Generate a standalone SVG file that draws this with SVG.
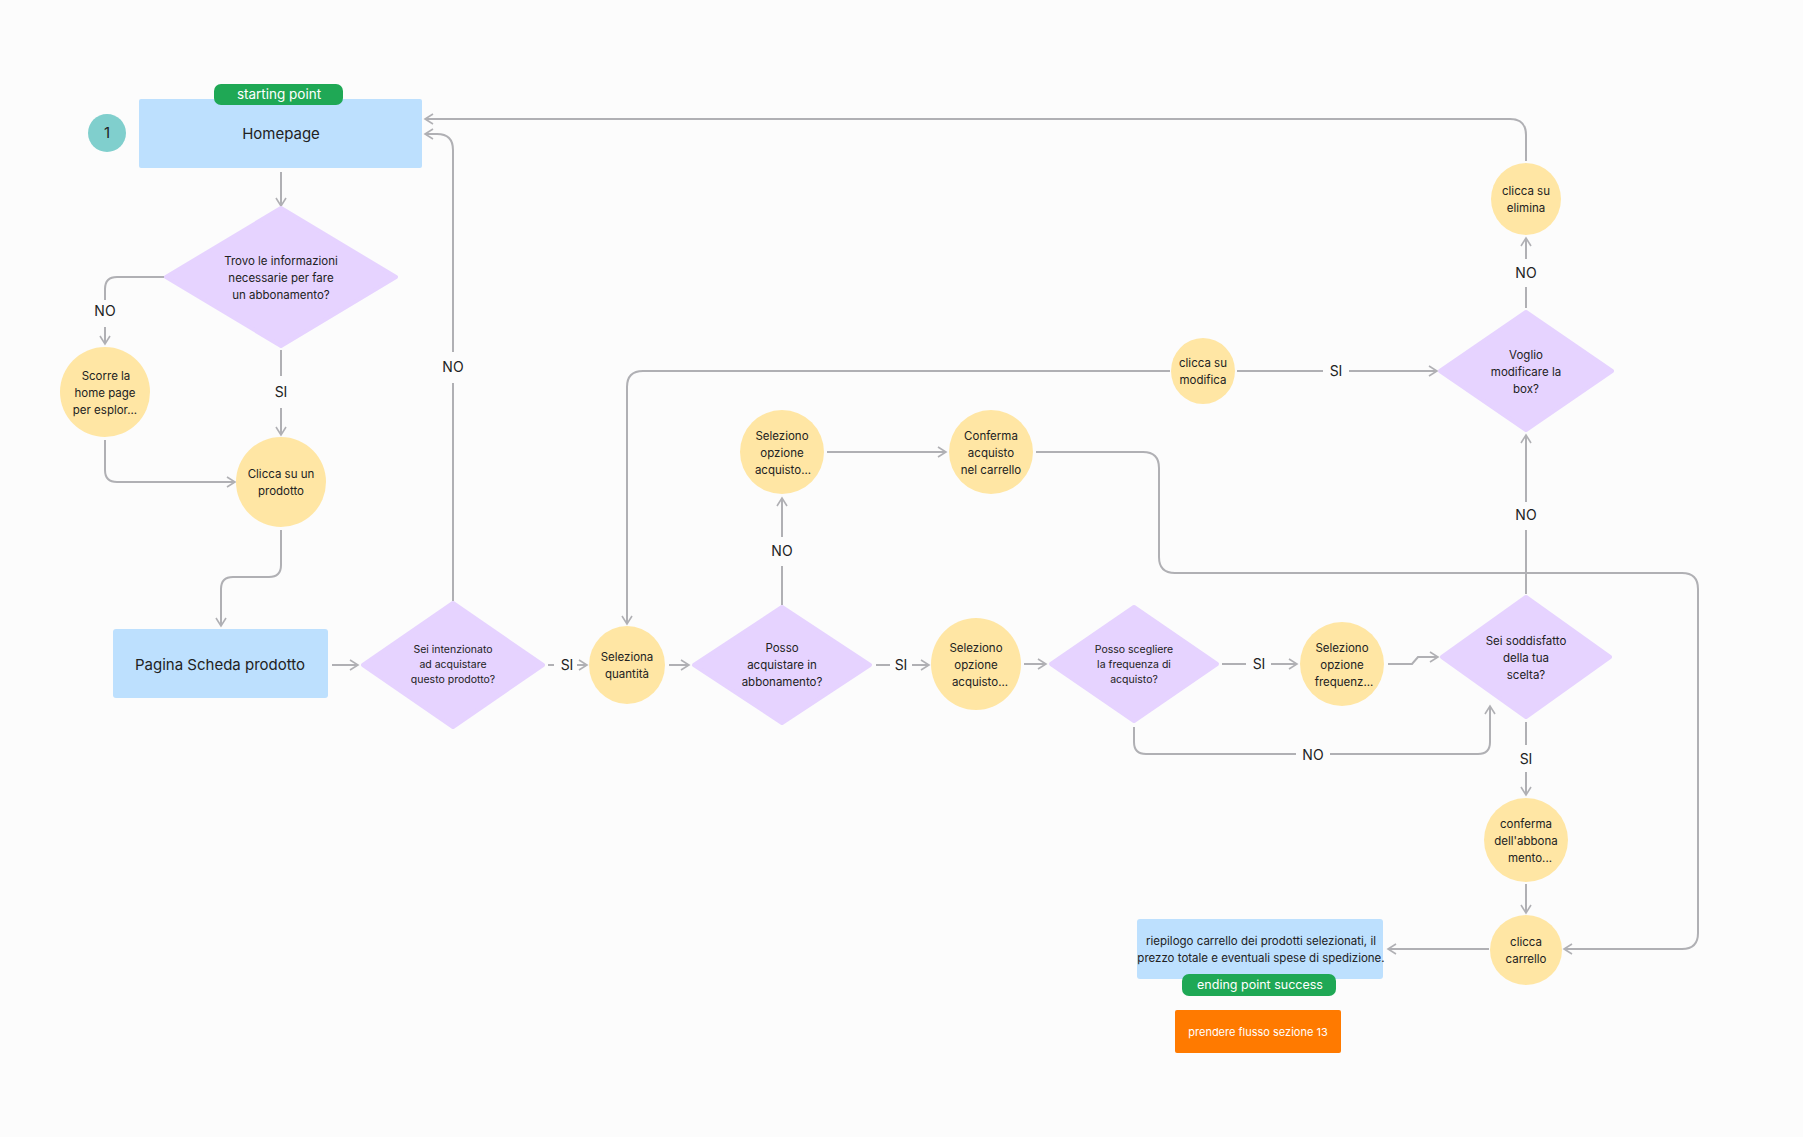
<svg xmlns="http://www.w3.org/2000/svg" width="1803" height="1137" viewBox="0 0 1803 1137">
<defs>
<marker id="ar" viewBox="0 0 12 12" refX="10" refY="6" markerWidth="12" markerHeight="12" markerUnits="userSpaceOnUse" orient="auto"><path d="M2,1 L10,6 L2,11" fill="none" stroke="#b0b0b4" stroke-width="1.6"/></marker>
</defs>
<style>
text{font-family:Inter,"Noto Sans","Liberation Sans",sans-serif;fill:#222;text-anchor:middle}
.s{font-size:11.5px}.m{font-size:15px}.l{font-size:13.5px}
.b{fill:#bde0fe}.p{fill:#e6d3ff}.y{fill:#ffe6a4}
.c{fill:none;stroke:#b0b0b4;stroke-width:2}
.a{marker-end:url(#ar)}
</style>
<rect width="1803" height="1137" fill="#fcfcfc"/>
<g id="connectors">
<path class="c a" d="M281,172 V206"/>
<path class="c" d="M166,277 H117 Q105,277 105,289 V300"/>
<path class="c a" d="M105,327 V344"/>
<path class="c" d="M281,350 V376"/>
<path class="c a" d="M281,408 V435"/>
<path class="c a" d="M105,440 V470 Q105,482 117,482 H235"/>
<path class="c a" d="M281,530 V565 Q281,577 269,577 H233 Q221,577 221,589 V626"/>
<path class="c a" d="M332,665 H358"/>
<path class="c" d="M453,601 V383"/>
<path class="c a" d="M453,352 V150 Q453,134 437,134 H425"/>
<path class="c" d="M548,665 H554"/>
<path class="c a" d="M577,665 H587"/>
<path class="c a" d="M669,665 H689"/>
<path class="c" d="M876,665 H890"/>
<path class="c a" d="M912,665 H929"/>
<path class="c a" d="M1024,664 H1046"/>
<path class="c" d="M1222,664 H1246"/>
<path class="c a" d="M1271,664 H1297"/>
<path class="c a" d="M1388,664 H1412 L1418,657 H1438"/>
<path class="c" d="M1134,727 V742 Q1134,754 1146,754 H1296"/>
<path class="c a" d="M1330,754 H1478 Q1490,754 1490,742 V706"/>
<path class="c" d="M1526,722 V745"/>
<path class="c a" d="M1526,772 V795"/>
<path class="c a" d="M1526,884 V913"/>
<path class="c a" d="M1489,949 H1388"/>
<path class="c" d="M1526,594 V530"/>
<path class="c a" d="M1526,502 V435"/>
<path class="c" d="M1526,308 V287"/>
<path class="c a" d="M1526,259 V238"/>
<path class="c a" d="M1526,161 V135 Q1526,119 1510,119 H425"/>
<path class="c" d="M1237,371 H1323"/>
<path class="c a" d="M1349,371 H1437"/>
<path class="c a" d="M1170,371 H643 Q627,371 627,387 V624"/>
<path class="c" d="M782,605 V566"/>
<path class="c a" d="M782,537 V498"/>
<path class="c a" d="M827,452 H946"/>
<path class="c a" d="M1036,452 H1143 Q1159,452 1159,468 V557 Q1159,573 1175,573 H1682 Q1698,573 1698,589 V933 Q1698,949 1682,949 H1564"/>
<g font-size="14px">
<text x="105" y="316">NO</text>
<text x="281" y="397">SI</text>
<text x="453" y="372">NO</text>
<text x="567" y="670">SI</text>
<text x="901" y="670">SI</text>
<text x="782" y="556">NO</text>
<text x="1259" y="669">SI</text>
<text x="1313" y="760">NO</text>
<text x="1526" y="764">SI</text>
<text x="1526" y="520">NO</text>
<text x="1526" y="278">NO</text>
<text x="1336" y="376">SI</text>
</g>
</g>
<g id="homepage"><rect class="b" x="139" y="99" width="283" height="69" rx="2"/><text class="m" x="281" y="139">Homepage</text></g>
<g id="start"><rect x="214" y="84" width="129" height="21" rx="7" fill="#1fa855"/><text x="279" y="99" style="fill:#fff;font-size:13.5px">starting point</text></g>
<g id="badge"><ellipse cx="107" cy="133" rx="19" ry="19" fill="#80cfcd"/><text x="107" y="138" style="font-size:15px">1</text></g>
<g id="d1"><polygon class="p" points="281,208 396,277 281,346 166,277" stroke="#e6d3ff" stroke-width="4" stroke-linejoin="round"/><text class="s" x="281" y="265">Trovo le informazioni</text><text class="s" x="281" y="282">necessarie per fare</text><text class="s" x="281" y="299">un abbonamento?</text></g>
<g id="scorre"><circle class="y" cx="105" cy="392" r="45"/><text class="s" x="106" y="380">Scorre la</text><text class="s" x="105" y="397">home page</text><text class="s" x="105" y="414">per esplor...</text></g>
<g id="clicca"><circle class="y" cx="281" cy="482" r="45"/><text class="s" x="281" y="478">Clicca su un</text><text class="s" x="281" y="495">prodotto</text></g>
<g id="pagina"><rect class="b" x="113" y="629" width="215" height="69" rx="3"/><text class="m" x="220" y="670">Pagina Scheda prodotto</text></g>
<g id="d2"><polygon class="p" points="453,603 543,665 453,727 363,665" stroke="#e6d3ff" stroke-width="4" stroke-linejoin="round"/><text class="s" x="453" y="653" style="font-size:10.5px">Sei intenzionato</text><text class="s" x="453" y="668" style="font-size:10.5px">ad acquistare</text><text class="s" x="453" y="683" style="font-size:10.5px">questo prodotto?</text></g>
<g id="quant"><ellipse class="y" cx="627" cy="665" rx="38" ry="39"/><text class="s" x="627" y="661">Seleziona</text><text class="s" x="627" y="678">quantità</text></g>
<g id="d3"><polygon class="p" points="782,607 870,665 782,723 694,665" stroke="#e6d3ff" stroke-width="4" stroke-linejoin="round"/><text class="s" x="782" y="652">Posso</text><text class="s" x="782" y="669">acquistare in</text><text class="s" x="782" y="686">abbonamento?</text></g>
<g id="opz1"><circle class="y" cx="782" cy="452" r="42"/><text class="s" x="782" y="440">Seleziono</text><text class="s" x="782" y="457">opzione</text><text class="s" x="783" y="474">acquisto...</text></g>
<g id="conf1"><circle class="y" cx="991" cy="452" r="42"/><text class="s" x="991" y="440">Conferma</text><text class="s" x="991" y="457">acquisto</text><text class="s" x="991" y="474">nel carrello</text></g>
<g id="opz2"><ellipse class="y" cx="976" cy="664" rx="45" ry="46"/><text class="s" x="976" y="652">Seleziono</text><text class="s" x="976" y="669">opzione</text><text class="s" x="980" y="686">acquisto...</text></g>
<g id="d4"><polygon class="p" points="1134,607 1217,664 1134,721 1051,664" stroke="#e6d3ff" stroke-width="4" stroke-linejoin="round"/><text class="s" x="1134" y="653" style="font-size:10.5px">Posso scegliere</text><text class="s" x="1134" y="668" style="font-size:10.5px">la frequenza di</text><text class="s" x="1134" y="683" style="font-size:10.5px">acquisto?</text></g>
<g id="freq"><circle class="y" cx="1342" cy="664" r="42"/><text class="s" x="1342" y="652">Seleziono</text><text class="s" x="1342" y="669">opzione</text><text class="s" x="1344" y="686">frequenz...</text></g>
<g id="d5"><polygon class="p" points="1526,597 1610,657 1526,717 1442,657" stroke="#e6d3ff" stroke-width="4" stroke-linejoin="round"/><text class="s" x="1526" y="645">Sei soddisfatto</text><text class="s" x="1526" y="662">della tua</text><text class="s" x="1526" y="679">scelta?</text></g>
<g id="confab"><circle class="y" cx="1526" cy="840" r="42"/><text class="s" x="1526" y="828">conferma</text><text class="s" x="1526" y="845">dell'abbona</text><text class="s" x="1530" y="862">mento...</text></g>
<g id="carrello"><ellipse class="y" cx="1526" cy="950" rx="36" ry="35"/><text class="s" x="1526" y="946">clicca</text><text class="s" x="1526" y="963">carrello</text></g>
<g id="riepilogo"><rect class="b" x="1137" y="919" width="246" height="60" rx="3"/><text class="s" x="1261" y="945">riepilogo carrello dei prodotti selezionati, il</text><text class="s" x="1261" y="962">prezzo totale e eventuali spese di spedizione.</text></g>
<g id="ending"><rect x="1182" y="974" width="154" height="22" rx="7" fill="#1fa855"/><text x="1260" y="989" style="fill:#fff;font-size:12.5px">ending point success</text></g>
<g id="sez13"><rect x="1175" y="1010" width="166" height="43" rx="2" fill="#ff7a00"/><text x="1258" y="1036" style="fill:#fff;font-size:11px">prendere flusso sezione 13</text></g>
<g id="modifica"><ellipse class="y" cx="1203" cy="371" rx="32" ry="33"/><text class="s" x="1203" y="367">clicca su</text><text class="s" x="1203" y="384">modifica</text></g>
<g id="d6"><polygon class="p" points="1526,312 1612,371 1526,430 1440,371" stroke="#e6d3ff" stroke-width="4" stroke-linejoin="round"/><text class="s" x="1526" y="359">Voglio</text><text class="s" x="1526" y="376">modificare la</text><text class="s" x="1526" y="393">box?</text></g>
<g id="elimina"><ellipse class="y" cx="1526" cy="199" rx="35" ry="36"/><text class="s" x="1526" y="195">clicca su</text><text class="s" x="1526" y="212">elimina</text></g>
</svg>
